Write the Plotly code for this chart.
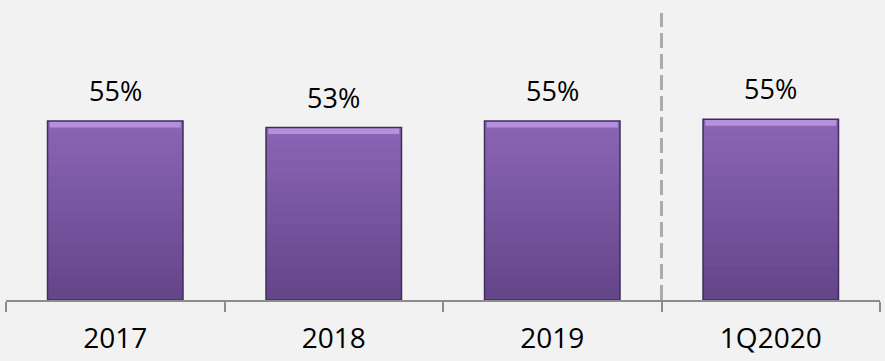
import plotly.graph_objects as go

categories = ["2017", "2018", "2019", "1Q2020"]
values = [55, 53, 55, 55.5]
labels = ["55%", "53%", "55%", "55%"]

TOP = (138, 100, 180)
BOTTOM = (100, 70, 138)
N = 16

fig = go.Figure()
# vertical gradient built by layering progressively shorter bars
for k in range(N):
    f = k / (N - 1)
    col = "rgb(%d,%d,%d)" % tuple(round(TOP[i] + (BOTTOM[i] - TOP[i]) * f) for i in range(3))
    fig.add_trace(go.Bar(
        x=categories, y=[v * (1 - k / N) for v in values],
        marker=dict(color=col, line=dict(width=0)),
        width=0.62, hoverinfo="skip",
    ))
# light bevel strip at the top
fig.add_trace(go.Bar(
    x=categories, y=[2.0] * len(values), base=[v - 2.0 for v in values],
    marker=dict(color="#b690dd", line=dict(width=0)),
    width=0.60, hoverinfo="skip",
))
# outline
fig.add_trace(go.Bar(
    x=categories, y=values,
    marker=dict(color="rgba(0,0,0,0)", line=dict(color="#3f2d5c", width=1.5)),
    width=0.62, hoverinfo="skip",
))

for i, (v, t) in enumerate(zip(values, labels)):
    fig.add_annotation(x=i, y=v, text=t, showarrow=False, yanchor="bottom",
                       yshift=10, font=dict(family="Open Sans", size=27, color="#000000"))

fig.add_shape(type="line", xref="x", yref="paper", x0=2.5, x1=2.5, y0=0, y1=0.99,
              line=dict(color="#ababab", width=3, dash="15px,6px"))

fig.update_layout(
    width=885, height=361,
    margin=dict(l=6, r=5, t=10, b=61),
    paper_bgcolor="#f2f2f2", plot_bgcolor="#f2f2f2",
    showlegend=False, barmode="overlay",
    xaxis=dict(type="category", range=[-0.5, 3.5], showgrid=False, zeroline=False,
               showline=True, linecolor="#8c8c8c", linewidth=2,
               ticks="outside", tickson="boundaries", ticklen=10, tickwidth=2, tickcolor="#8c8c8c",
               ticklabelstandoff=12,
               tickfont=dict(family="Open Sans", size=28, color="#000000")),
    yaxis=dict(range=[0, 89.1], visible=False, showgrid=False, zeroline=False),
)

fig.write_html("out.html")
